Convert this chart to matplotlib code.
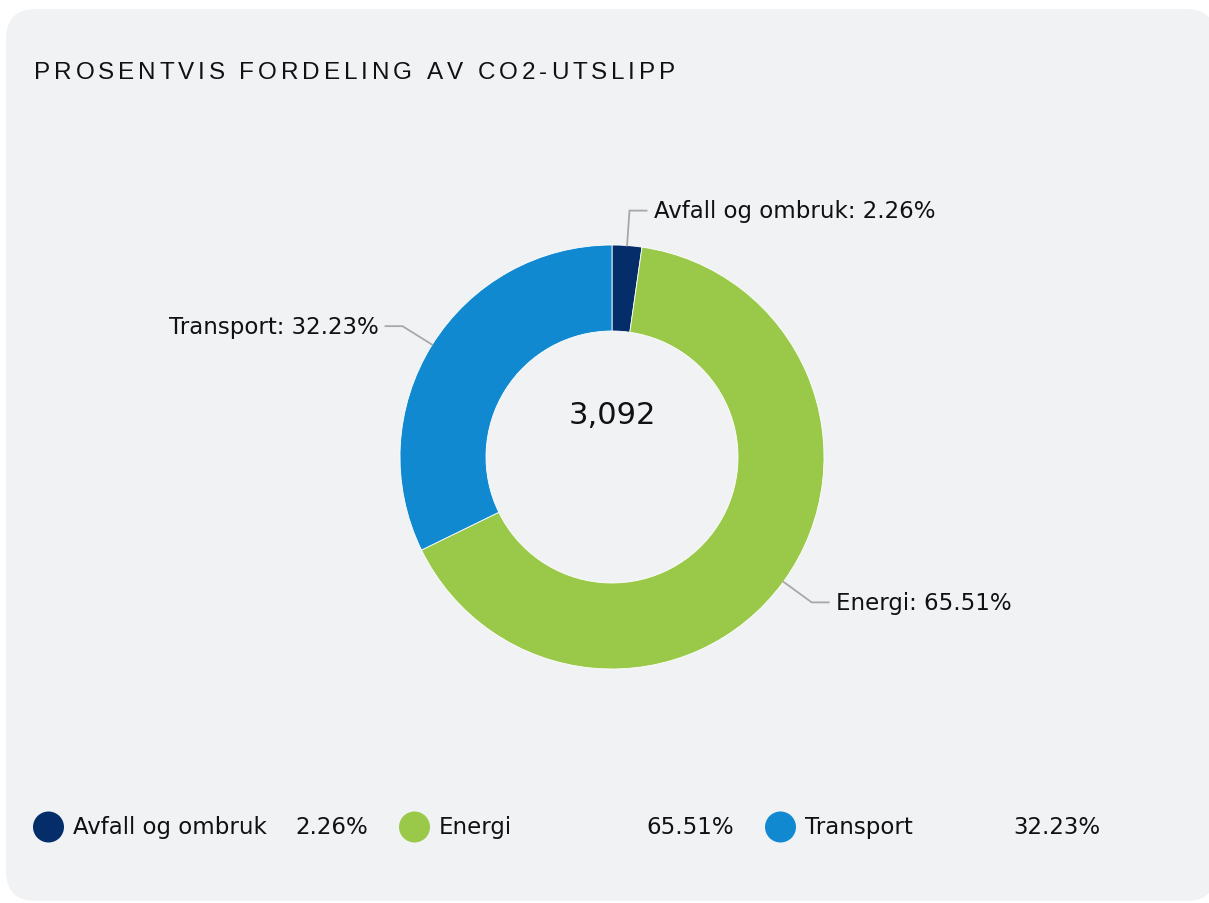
import matplotlib
matplotlib.use('Agg')
import matplotlib.pyplot as plt
from matplotlib.patches import FancyBboxPatch, Circle
import numpy as np

# data
categories = ['Avfall og ombruk', 'Energi', 'Transport']
shares = [2.26, 65.51, 32.23]
total_label = '3,092'
colors = ['#052d69', '#9ac94a', '#1189d0']
title = 'PROSENTVIS FORDELING AV CO2-UTSLIPP'

W, H = 1209, 904
fig = plt.figure(figsize=(W / 100, H / 100), dpi=100)
ax = fig.add_axes([0, 0, 1, 1])

def py(y):
    # pixel row (from top) -> data y
    return H - y

# card background
card = FancyBboxPatch((6, py(902)), 1210, 892, boxstyle='round,pad=0,rounding_size=30',
                      facecolor='#f1f2f4', edgecolor='none', zorder=0)
ax.add_patch(card)

# donut
cx, cy, R, ring = 612, py(458), 212, 86
wedges, _ = ax.pie(shares, colors=colors, startangle=90, counterclock=False,
                   center=(cx, cy), radius=R,
                   wedgeprops=dict(width=ring, edgecolor='white', linewidth=0.6))
ax.set_xlim(0, W)
ax.set_ylim(0, H)
ax.set_aspect('equal')
ax.axis('off')

# labels with leader lines
for w, name, val in zip(wedges, categories, shares):
    ang = np.deg2rad((w.theta1 + w.theta2) / 2)
    c, s = np.cos(ang), np.sin(ang)
    x0, y0 = cx + R * c, cy + R * s
    x1, y1 = cx + (R + 35) * c, cy + (R + 35) * s
    sign = 1 if c >= 0 else -1
    x2 = x1 + sign * 17
    ax.plot([x0, x1, x2], [y0, y1, y1], color='#a8a8a8', lw=1.3, zorder=3,
            solid_joinstyle='miter')
    ax.text(x2 + sign * 7, y1, f'{name}: {val:.2f}%', ha='left' if sign > 0 else 'right',
            va='center', fontsize=16.5, color='#111111', family='DejaVu Sans')

# centre total
ax.text(cx, py(424), total_label, ha='center', va='baseline', fontsize=22,
        color='#111111', family='DejaVu Sans')

# letter-spaced title
fig.canvas.draw()
renderer = fig.canvas.get_renderer()
tkw = dict(fontsize=17.5, family='Liberation Sans', color='#111111', va='baseline')
widths = []
for ch in title:
    if ch == ' ':
        t = ax.text(0, 0, 'a a', **tkw)
        t2 = ax.text(0, 0, 'aa', **tkw)
        wpx = t.get_window_extent(renderer).width - t2.get_window_extent(renderer).width
        t.remove(); t2.remove()
    else:
        t = ax.text(0, 0, ch, **tkw)
        wpx = t.get_window_extent(renderer).width
        t.remove()
    widths.append(wpx)
target = 675 - 34
gap = (target - sum(widths)) / (len(title) - 1)
x = 34
for ch, wpx in zip(title, widths):
    if ch != ' ':
        ax.text(x, py(79), ch, ha='left', **tkw)
    x += wpx + gap

# legend row
col_w = 366
for i, (name, val, col) in enumerate(zip(categories, shares, colors)):
    x0 = 33 + i * col_w
    ax.add_patch(Circle((x0 + 15.5, py(828)), 15.5, facecolor=col, edgecolor='none'))
    ax.text(x0 + 40, py(828), name, ha='left', va='center', fontsize=16.5,
            color='#111111', family='DejaVu Sans')
    ax.text(x0 + 335, py(828), f'{val:.2f}%', ha='right', va='center', fontsize=16.5,
            color='#111111', family='DejaVu Sans')

fig.savefig('out.png', dpi=100, facecolor='white')
